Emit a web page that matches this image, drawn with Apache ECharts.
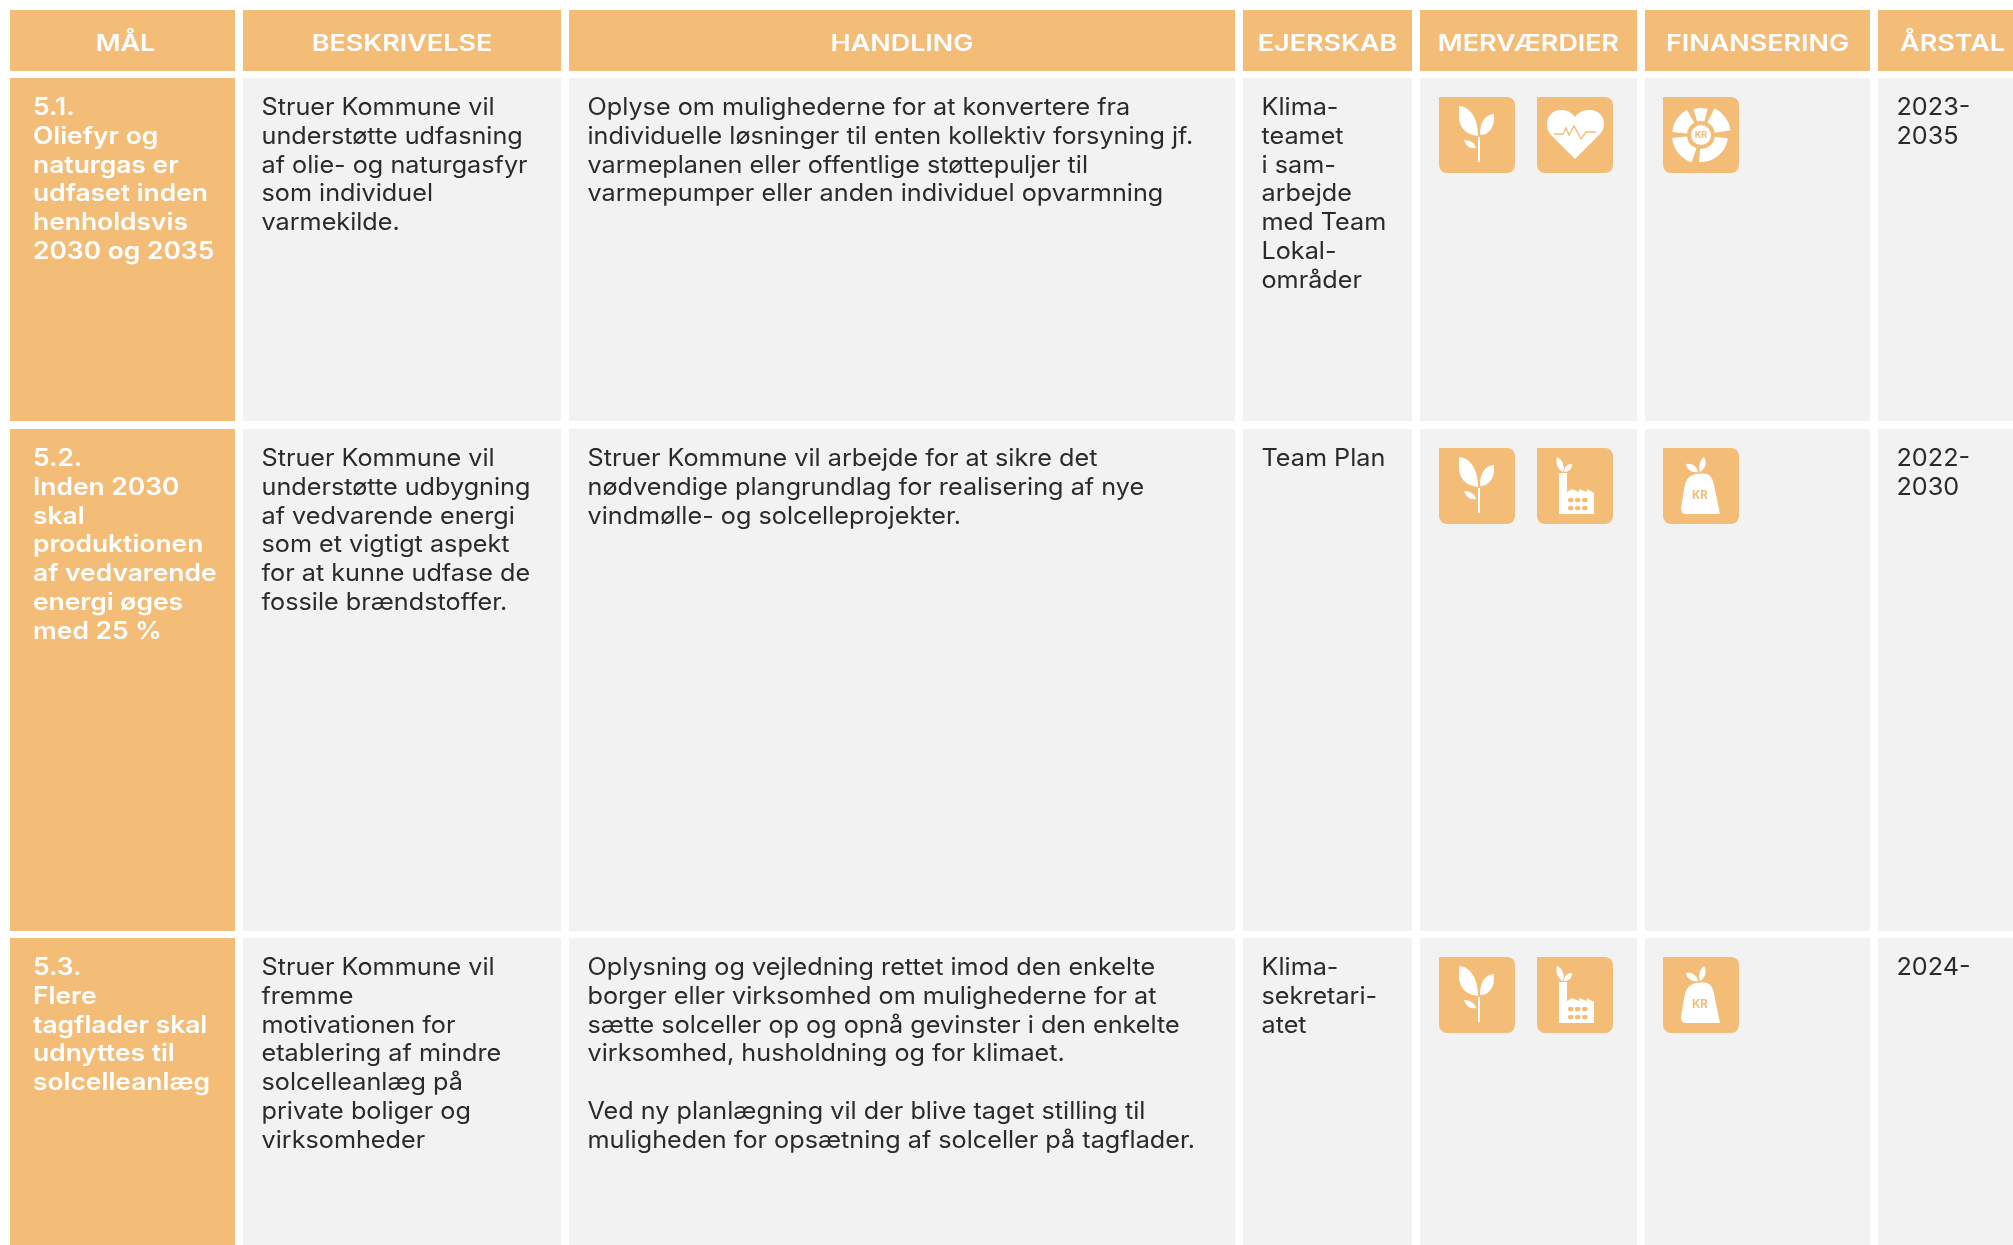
<!DOCTYPE html>
<html><head><meta charset="utf-8">
<script src="https://cdn.jsdelivr.net/npm/echarts@6/dist/echarts.min.js"></script>
<style>html,body{margin:0;padding:0;background:#fff}#c{width:2013px;height:1245px}</style>
</head><body><div id="c"></div>
<script>
// ---- table content ----
const headers = ['MÅL','BESKRIVELSE','HANDLING','EJERSKAB','MERVÆRDIER','FINANSERING','ÅRSTAL'];
const goals = [
  '5.1.\nOliefyr og\nnaturgas er\nudfaset inden\nhenholdsvis\n2030 og 2035',
  '5.2.\nInden 2030\nskal\nproduktionen\naf vedvarende\nenergi øges\nmed 25 %',
  '5.3.\nFlere\ntagflader skal\nudnyttes til\nsolcelleanlæg'
];
const descriptions = [
  'Struer Kommune vil\nunderstøtte udfasning\naf olie- og naturgasfyr\nsom individuel\nvarmekilde.',
  'Struer Kommune vil\nunderstøtte udbygning\naf vedvarende energi\nsom et vigtigt aspekt\nfor at kunne udfase de\nfossile brændstoffer.',
  'Struer Kommune vil\nfremme\nmotivationen for\netablering af mindre\nsolcelleanlæg på\nprivate boliger og\nvirksomheder'
];
const actions = [
  'Oplyse om mulighederne for at konvertere fra\nindividuelle løsninger til enten kollektiv forsyning jf.\nvarmeplanen eller offentlige støttepuljer til\nvarmepumper eller anden individuel opvarmning',
  'Struer Kommune vil arbejde for at sikre det\nnødvendige plangrundlag for realisering af nye\nvindmølle- og solcelleprojekter.',
  'Oplysning og vejledning rettet imod den enkelte\nborger eller virksomhed om mulighederne for at\nsætte solceller op og opnå gevinster i den enkelte\nvirksomhed, husholdning og for klimaet.\n\nVed ny planlægning vil der blive taget stilling til\nmuligheden for opsætning af solceller på tagflader.'
];
const owners = [
  'Klima-\nteamet\ni sam-\narbejde\nmed Team\nLokal-\nområder',
  'Team Plan',
  'Klima-\nsekretari-\natet'
];
const addedValues = [['plant','heart'],['plant','factory'],['plant','factory']];
const financing = [['wheel'],['bag'],['bag']];
const years = ['2023-\n2035','2022-\n2030','2024-'];

// ---- layout ----
const colEdges = [[10,235],[243,561],[569,1235],[1243,1412],[1420,1637],[1645,1870],[1878,2040]];
const headerBand = [10,71];
const rowBands = [[78,421],[429,931],[938,1260]];
const ORANGE = '#F3BD78', GREY = '#F2F2F2', INK = '#2A2A2A';
const FONT = 'Inter';
const BODY = 24, BOLD = 24, HEAD = 23;
const STRETCH = {body:1.05, bold:1.1, head:1.17};
const LH = 28.85, PADX = 19, PADY = 15.3;
const ICON = 76;
const iconX = {4:[19,117],5:[18]};
const headerNudge = [3,0,0,0,0,0,0];

// ---- icons: local 76x76 ----
const W = {fill:'#fff'}, O = {fill:ORANGE};
const pth = (d, style) => ({type:'path', shape:{pathData:d}, style});
const iconShapes = {
  plant: [
    'M20 9C33 10 39 24 39 39C27 38 20 30 20 20Z',
    'M55 17C46 18 41 24 41 38C50 38 55 30 55 22Z',
    'M25 43C31 43 36 46 37 51C31 52 27 49 25 43Z',
    'M39 40H41V65H39Z'
  ].map(d=>pth(d,W)),
  heart: [
    pth('M38 20C34 14 28 13 24 13C15 13 10 20 10 27C10 33 13 37 16 40L38 62L60 40C64 36 67 33 67 27C67 20 62 13 53 13C48 13 42 14 38 20Z',W),
    {type:'polyline',shape:{points:[[17,37],[26,37],[29,31],[32,38],[37,29],[44,42],[49,35],[59,35]]},style:{fill:null,stroke:ORANGE,lineWidth:1.4}}
  ],
  wheel: [
    [186,241,29],[254,284,27],[297,351,30],[7,94,27],[109,174,29]
  ].map(([a,b,r])=>({type:'sector',shape:{cx:38,cy:38,r0:14,r,startAngle:a*Math.PI/180,endAngle:b*Math.PI/180,clockwise:true},style:W}))
   .concat([
    {type:'circle',shape:{cx:38,cy:38,r:10},style:W},
    {type:'text',x:38,y:38,style:{text:'KR',fill:ORANGE,font:'bold 9px '+FONT,align:'center',verticalAlign:'middle'}}
   ]),
  factory: [
    pth('M22 25H30V44L35 41L42 44V41L50 44V41L57 45V66H22Z',W),
    pth('M20 9C25 11 28 17 26 24C21 22 18 15 20 9Z',W),
    pth('M35 16C30 16 27 19 27 24C32 24 35 21 35 16Z',W)
  ].concat([[31,50],[38,50],[45,50],[31,58],[38,58],[45,58]].map(([x,y])=>(
    {type:'rect',shape:{x,y,width:5.5,height:4.2,r:1.6},style:O}))),
  bag: [
    pth('M28 28C33 25 42 25 46 27C50 30 51 36 52 42L57 66H23C19 66 18 63 18 60L21 42C22 35 24 30 28 28Z',W),
    pth('M23 16C29 15 34 18 35 24C29 25 24 22 23 16Z',W),
    pth('M41 9C44 14 43 20 37 24C35 18 37 12 41 9Z',W),
    {type:'text',x:37,y:47.5,style:{text:'KR',fill:ORANGE,font:'bold 11.5px '+FONT,align:'center',verticalAlign:'middle'}}
  ]
};

// ---- flatten into series rows ----
const cells = [], texts = [], icons = [];
headers.forEach((h,c)=>{
  cells.push([colEdges[c][0],colEdges[c][1],headerBand[0],headerBand[1],ORANGE]);
  texts.push([(colEdges[c][0]+Math.min(colEdges[c][1],2027))/2+headerNudge[c],(headerBand[0]+headerBand[1])/2+3.5,h,'head']);
});
rowBands.forEach((rb,r)=>{
  const bodies=[goals[r],descriptions[r],actions[r],owners[r],null,null,years[r]];
  colEdges.forEach((ce,c)=>{
    cells.push([ce[0],ce[1],rb[0],rb[1],c===0?ORANGE:GREY]);
    if(bodies[c]!==null) texts.push([ce[0]+(c===0?PADX+4:PADX-0.5),rb[0]+PADY,bodies[c],c===0?'bold':'body']);
  });
  addedValues[r].forEach((n,i)=>icons.push([colEdges[4][0]+iconX[4][i],rb[0]+19,n]));
  financing[r].forEach((n,i)=>icons.push([colEdges[5][0]+iconX[5][i],rb[0]+19,n]));
});

const chart = echarts.init(document.getElementById('c'));
chart.setOption({
  animation:false,
  backgroundColor:'#fff',
  grid:{left:0,right:0,top:0,bottom:0},
  xAxis:{type:'value',min:0,max:2013,show:false},
  yAxis:{type:'value',min:0,max:1245,inverse:true,show:false},
  series:[
    {type:'custom',coordinateSystem:'cartesian2d',silent:true,clip:true,data:cells,
     encode:{x:[0,1],y:[2,3]},
     renderItem(params,api){
       const a=api.coord([api.value(0),api.value(2)]), b=api.coord([api.value(1),api.value(3)]);
       return {type:'rect',shape:{x:a[0],y:a[1],width:b[0]-a[0],height:b[1]-a[1]},style:{fill:cells[params.dataIndex][4]}};
     }},
    {type:'custom',coordinateSystem:'cartesian2d',silent:true,data:icons.map(d=>[d[0],d[1]]),
     renderItem(params,api){
       const a=api.coord([api.value(0),api.value(1)]), name=icons[params.dataIndex][2];
       return {type:'group',x:a[0],y:a[1],children:[
         {type:'rect',shape:{x:0,y:0,width:ICON,height:ICON,r:[0,8,8,8]},style:{fill:ORANGE}},
         ...iconShapes[name]
       ]};
     }},
    {type:'custom',coordinateSystem:'cartesian2d',silent:true,z:5,data:texts.map(d=>[d[0],d[1]]),
     renderItem(params,api){
       const a=api.coord([api.value(0),api.value(1)]), t=texts[params.dataIndex];
       const head=t[3]==='head', bold=t[3]==='bold';
       return {type:'text',x:a[0],y:a[1],scaleX:STRETCH[t[3]],style:{
         text:t[2],
         fill:(head||bold)?'#fff':INK,
         font:(head?'600 '+HEAD:bold?'600 '+BOLD:'400 '+BODY)+'px '+FONT,
         lineHeight:LH,
         align:head?'center':'left',
         verticalAlign:head?'middle':'top'
       }};
     }}
  ]
});
</script></body></html>
